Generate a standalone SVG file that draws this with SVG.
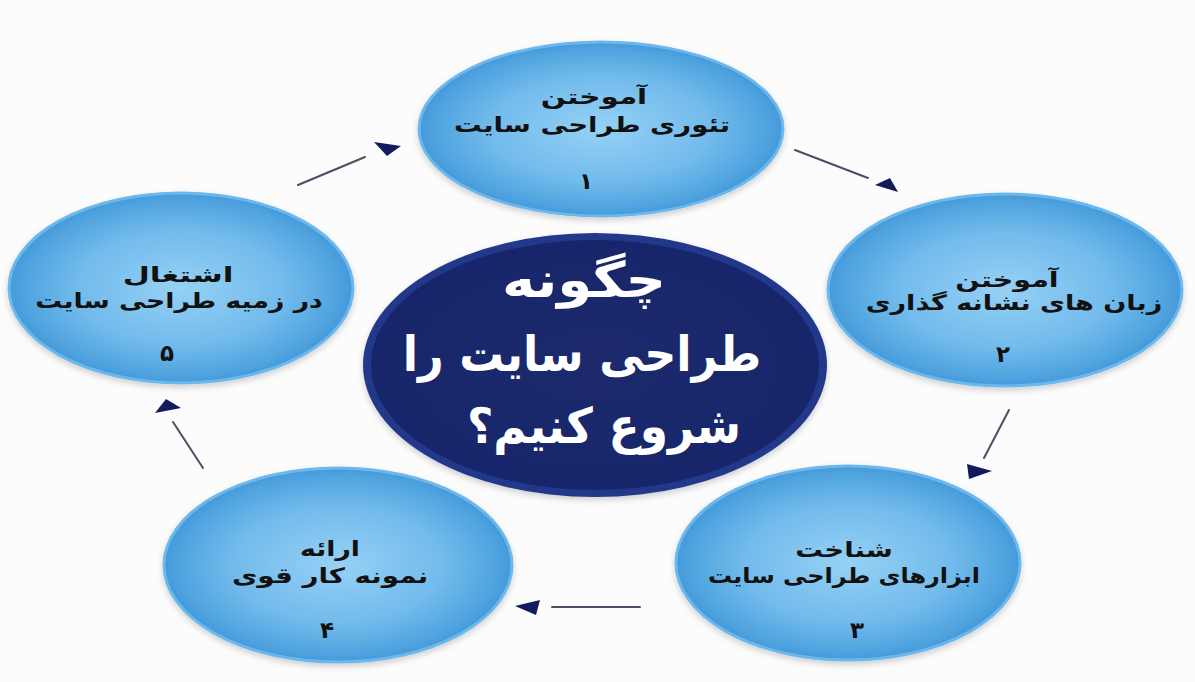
<svg xmlns="http://www.w3.org/2000/svg" width="1195" height="682" viewBox="0 0 1195 682">
<defs>
<radialGradient id="blue" cx="50%" cy="50%" r="50%">
<stop offset="0" stop-color="#96d1f5"/>
<stop offset="0.6" stop-color="#72bbec"/>
<stop offset="0.92" stop-color="#4fa3df"/>
<stop offset="1" stop-color="#4499da"/>
</radialGradient>
<radialGradient id="navy" cx="50%" cy="50%" r="50%">
<stop offset="0" stop-color="#1c2a6d"/>
<stop offset="1" stop-color="#17256a"/>
</radialGradient>
<filter id="sh" x="-10%" y="-10%" width="120%" height="125%">
<feDropShadow dx="0" dy="3" stdDeviation="3" flood-color="#000" flood-opacity="0.18"/>
</filter>
</defs>
<style>
.node{fill:url(#blue);stroke:#6cb8ec;stroke-width:3;filter:url(#sh)}
.lbl{font-family:"DejaVu Sans",sans-serif;font-weight:bold;font-size:21px;fill:#111;text-anchor:middle;direction:rtl}
.num{font-family:"DejaVu Sans",sans-serif;font-weight:bold;font-size:23px;fill:#111;text-anchor:middle}
.ctr{font-family:"DejaVu Sans",sans-serif;font-weight:bold;font-size:49px;fill:#fff;text-anchor:middle;direction:rtl}
.ln{stroke:#4a4f66;stroke-width:2;stroke-linecap:round;fill:none}
.ah{fill:#121c5c}
</style>
<rect x="0" y="0" width="1195" height="682" fill="#fcfcfc"/>
<g id="connectors">
<line class="ln" x1="298" y1="185" x2="365" y2="157"/>
<polygon class="ah" points="374,142 401,146 387,156"/>
<line class="ln" x1="795" y1="150" x2="868" y2="178"/>
<polygon class="ah" points="875,185 890,178 898,192"/>
<line class="ln" x1="1009" y1="410" x2="984" y2="458"/>
<polygon class="ah" points="967,464 992,471 969,479"/>
<line class="ln" x1="640" y1="607" x2="552" y2="607"/>
<polygon class="ah" points="515,606 540,600 536,615"/>
<line class="ln" x1="203" y1="468" x2="173" y2="422"/>
<polygon class="ah" points="155,413 166,399 181,408"/>
</g>
<g id="center">
<ellipse cx="595" cy="365" rx="232" ry="132" fill="#24388a" filter="url(#sh)"/>
<ellipse cx="595" cy="365" rx="224" ry="125" fill="url(#navy)"/>
<text class="ctr" transform="translate(584,297) scale(1.15,1)">چگونه</text>
<text class="ctr" transform="translate(582,371) scale(0.91,1)">طراحی سایت را</text>
<text class="ctr" transform="translate(604,443) scale(0.93,1)">شروع کنیم؟</text>
</g>
<g id="node1">
<ellipse class="node" cx="601" cy="129" rx="182" ry="87"/>
<text class="lbl" transform="translate(594,104) scale(1.4,1)">آموختن</text>
<text class="lbl" transform="translate(592,132) scale(1.31,1)">تئوری طراحی سایت</text>
<text class="num" x="586" y="189">۱</text>
</g>
<g id="node2">
<ellipse class="node" cx="1005" cy="290" rx="177" ry="96"/>
<text class="lbl" transform="translate(1007,287) scale(1.36,1)">آموختن</text>
<text class="lbl" transform="translate(1014,310) scale(1.29,1)">زبان های نشانه گذاری</text>
<text class="num" x="1003" y="362">۲</text>
</g>
<g id="node3">
<ellipse class="node" cx="848" cy="563" rx="172" ry="97"/>
<text class="lbl" transform="translate(844,557) scale(1.31,1)">شناخت</text>
<text class="lbl" transform="translate(844,583) scale(1.14,1)">ابزارهای طراحی سایت</text>
<text class="num" x="857" y="638">۳</text>
</g>
<g id="node4">
<ellipse class="node" cx="338" cy="565" rx="174" ry="97"/>
<text class="lbl" transform="translate(330,556) scale(1.27,1)">ارائه</text>
<text class="lbl" transform="translate(330,583) scale(1.32,1)">نمونه کار قوی</text>
<text class="num" x="327" y="638">۴</text>
</g>
<g id="node5">
<ellipse class="node" cx="181" cy="288" rx="172" ry="95"/>
<text class="lbl" transform="translate(178,282) scale(1.49,1)">اشتغال</text>
<text class="lbl" transform="translate(179,308) scale(1.27,1)">در زمیه طراحی سایت</text>
<text class="num" x="167" y="361">۵</text>
</g>
</svg>
